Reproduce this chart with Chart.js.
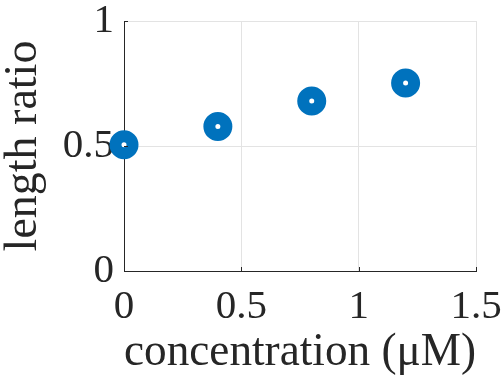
<!DOCTYPE html>
<html lang="en">
<head>
    <meta charset="UTF-8">
    <title>Length ratio vs concentration</title>
    <script src="https://cdn.jsdelivr.net/npm/chart.js"></script>
    <style>
        body { margin: 0; background: #fff; }
        .chart-container { width: 501px; height: 376px; }
    </style>
</head>
<body>
    <div class="chart-container">
        <canvas id="myChart" width="501" height="376"></canvas>
    </div>
    <script>
        const concentration = [0, 0.4, 0.8, 1.2];
        const lengthRatio = [0.505, 0.578, 0.68, 0.752];
        const xTicks = [0, 0.5, 1, 1.5];
        const yTicks = [0, 0.5, 1];

        const axisColor = '#262626';
        const gridColor = '#e3e3e3';
        const serif = "'Liberation Serif', 'Times New Roman', serif";

        // MATLAB style inward tick marks
        const innerTicks = {
            id: 'innerTicks',
            afterDraw(chart) {
                const {ctx, chartArea, scales} = chart;
                ctx.save();
                ctx.strokeStyle = axisColor;
                ctx.lineWidth = 1;
                ctx.beginPath();
                xTicks.forEach(v => {
                    const px = Math.round(scales.x.getPixelForValue(v)) + 0.5;
                    ctx.moveTo(px, chartArea.bottom);
                    ctx.lineTo(px, chartArea.bottom - 4);
                });
                yTicks.forEach(v => {
                    const py = Math.round(scales.y.getPixelForValue(v)) + 0.5;
                    ctx.moveTo(chartArea.left, py);
                    ctx.lineTo(chartArea.left + 4, py);
                });
                ctx.stroke();
                ctx.restore();
            }
        };

        const data = {
            datasets: [{
                data: concentration.map((c, i) => ({x: c, y: lengthRatio[i]})),
                borderColor: '#0072BD',
                backgroundColor: '#ffffff',
                pointRadius: 8.5,
                pointHoverRadius: 8.5,
                borderWidth: 12,
                pointBorderWidth: 12,
                pointHoverBorderWidth: 12,
                clip: false
            }]
        };

        const config = {
            type: 'scatter',
            data: data,
            options: {
                responsive: false,
                animation: false,
                devicePixelRatio: 1,
                layout: {
                    padding: {top: 21, right: 25, left: 0, bottom: 0}
                },
                plugins: {
                    legend: {display: false},
                    tooltip: {enabled: false}
                },
                scales: {
                    x: {
                        type: 'linear',
                        min: 0,
                        max: 1.5,
                        afterBuildTicks: s => { s.ticks = xTicks.map(v => ({value: v})); },
                        afterFit: s => {
                            s.height = 105;
                            s.paddingLeft = 0;
                            s.paddingRight = 0;
                        },
                        ticks: {
                            color: axisColor,
                            padding: 16,
                            maxRotation: 0,
                            autoSkip: false,
                            font: {family: serif, size: 41, lineHeight: 1},
                            callback: v => String(v)
                        },
                        grid: {
                            color: gridColor,
                            drawTicks: false
                        },
                        border: {color: axisColor, width: 1},
                        title: {
                            display: true,
                            text: 'concentration (μM)',
                            color: axisColor,
                            padding: 0,
                            font: {family: serif, size: 46, lineHeight: 1}
                        }
                    },
                    y: {
                        type: 'linear',
                        min: 0,
                        max: 1,
                        afterBuildTicks: s => { s.ticks = yTicks.map(v => ({value: v})); },
                        afterFit: s => {
                            s.width = 124;
                            s.paddingTop = 0;
                            s.paddingBottom = 0;
                        },
                        ticks: {
                            color: axisColor,
                            padding: 10,
                            autoSkip: false,
                            font: {family: serif, size: 41, lineHeight: 1},
                            callback: v => String(v)
                        },
                        grid: {
                            color: gridColor,
                            drawTicks: false
                        },
                        border: {color: axisColor, width: 1},
                        title: {
                            display: true,
                            text: 'length ratio',
                            color: axisColor,
                            padding: {top: 1, bottom: 0},
                            font: {family: serif, size: 46, lineHeight: 1}
                        }
                    }
                }
            },
            plugins: [innerTicks]
        };

        const myChart = new Chart(document.getElementById('myChart'), config);
    </script>
</body>
</html>
